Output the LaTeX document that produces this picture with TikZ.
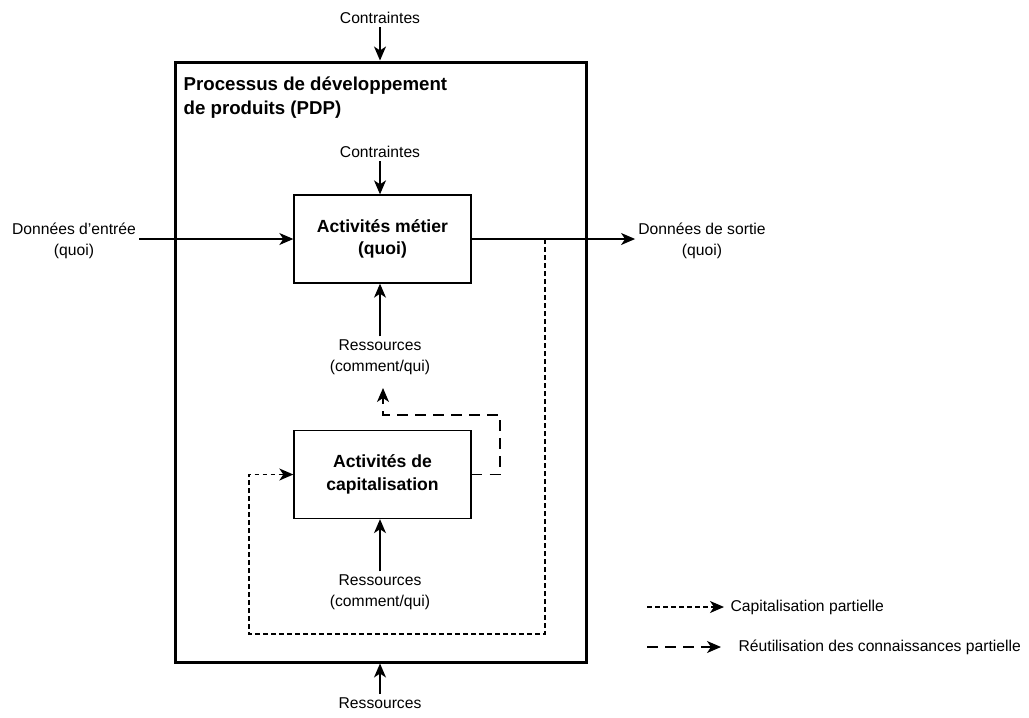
\documentclass[tikz,border=0pt]{standalone}
\usepackage{fontspec}
\setmainfont{Liberation Sans}
\usetikzlibrary{arrows.meta,positioning}
\tikzset{every path/.style={black,line width=1pt},
  tip/.style={-{Stealth[length=10.5pt,width=9pt,inset=3pt]}},
  act/.style={draw,line width=1pt,minimum width=132.75pt,minimum height=66pt,align=center,font=\bfseries\fontsize{13.2}{17}\selectfont},
  lbl/.style={align=center,inner sep=2pt,font=\fontsize{11.75}{16}\selectfont},
  capline/.style={dash pattern=on 3.5pt off 2.5pt},
  reuseline/.style={dash pattern=on 8pt off 5.5pt}}

\begin{document}
\begin{tikzpicture}[x=0.75pt,y=-0.75pt]
  \useasboundingbox (0,0) rectangle (1029,718);
  \node[draw,line width=2.25pt,minimum width=308.25pt,minimum height=450pt] (pdp) at (380.5,362) {};
  \node[anchor=north west,align=left,inner sep=0pt,font=\bfseries\fontsize{14}{18}\selectfont] (title) at (183,76) {Processus de développement\\de produits (PDP)};
  \node[act] (metier) at (382.5,239) {Activités métier\\(quoi)};
  \node[act] (capi) at (382.5,474.5) {Activités de\\capitalisation};
  \node[lbl] (cTop) at (380,18) {Contraintes};
  \node[lbl] (cIn) at (380,152) {Contraintes};
  \node[lbl] (rMetier) at (380,357.5) {Ressources\\(comment/qui)};
  \node[lbl] (rCapi) at (380,592.5) {Ressources\\(comment/qui)};
  \node[lbl] (rBot) at (380,703) {Ressources};
  \node[lbl] (dIn) at (74,241) {Données d'entrée\\(quoi)};
  \node[lbl] (dOut) at (702,241) {Données de sortie\\(quoi)};
  \coordinate (tap) at (545,239);
  \coordinate (loopA) at (249,634);
  \coordinate (loopB) at (500,415);
  \coordinate (reuseEnd) at (383,388);

  \draw[tip] (cTop) -- (cTop |- pdp.north);
  \draw[tip] (cIn) -- (cIn |- metier.north);
  \draw[tip] (rMetier) -- (rMetier |- metier.south);
  \draw[tip] (rCapi) -- (rCapi |- capi.south);
  \draw[tip] (rBot) -- (rBot |- pdp.south);
  \draw[tip] (dIn.east |- metier.west) -- (metier.west);
  \draw[tip] (metier.east) -- (metier.east -| dOut.west);
  \draw[capline,tip] (tap) |- (loopA) |- (capi.west);
  \draw[reuseline,tip] (capi.east) -| (loopB) -| (reuseEnd);

  \begin{scope}
   \node[lbl,anchor=west,inner sep=0pt] (legCap) at (730,607) {Capitalisation partielle};
   \node[lbl,anchor=west,inner sep=0pt] (legReuse) at (738,647) {Réutilisation des connaissances partielle};
   \coordinate (legCapStart) at (647,607);
   \coordinate (legReuseStart) at (647,647);
   \draw[capline,tip,shorten >=4.5pt] (legCapStart) -- (legCap.west);
   \draw[reuseline,tip,shorten >=12.75pt] (legReuseStart) -- (legReuse.west);
  \end{scope}
\end{tikzpicture}
\end{document}
